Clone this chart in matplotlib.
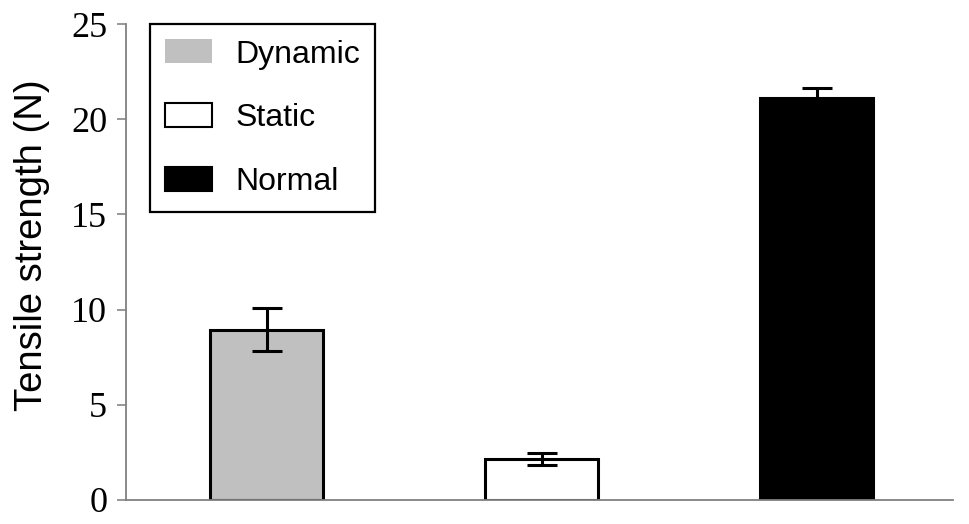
import numpy as np
import matplotlib.pyplot as plt
from matplotlib.patches import Patch

# Data
groups = ['Dynamic', 'Static', 'Normal']
strength = [8.95, 2.15, 21.1]
strength_err = [1.15, 0.3, 0.55]
fill_colors = ['#c0c0c0', '#ffffff', '#000000']

fig = plt.figure(figsize=(9.69, 5.24), dpi=100)
ax = fig.add_axes([0.130, 0.046, 0.8535, 0.908])

x = np.arange(len(groups))
ax.bar(x, strength, width=0.41, color=fill_colors, edgecolor='black',
       linewidth=2.2, zorder=2)
ax.errorbar(x, strength, yerr=strength_err, fmt='none', ecolor='black',
            elinewidth=2.2, capsize=11, capthick=2.2, zorder=3)

ax.set_xlim(-0.512, 2.496)
ax.set_ylim(0, 25)
ax.set_yticks([0, 5, 10, 15, 20, 25])
ax.set_xticks([])

for side in ['top', 'right']:
    ax.spines[side].set_visible(False)
for side in ['left', 'bottom']:
    ax.spines[side].set_color('#808080')
    ax.spines[side].set_linewidth(1.3)

ax.tick_params(axis='y', direction='out', length=6.5, width=1.3,
               color='#909090', pad=7)
for lbl in ax.get_yticklabels():
    lbl.set_fontfamily('Liberation Serif')
    lbl.set_fontsize(26)

ax.set_ylabel('Tensile strength (N)', fontfamily='Liberation Sans',
              fontsize=27.5)
ax.yaxis.set_label_coords(-0.092, 0.536)

handles = [Patch(facecolor=fill_colors[0], edgecolor='none'),
           Patch(facecolor=fill_colors[1], edgecolor='black', linewidth=1.5),
           Patch(facecolor=fill_colors[2], edgecolor='black', linewidth=1.5)]
leg = ax.legend(handles, groups, loc='upper left',
                bbox_to_anchor=(24 / 827, 1.0), borderaxespad=0,
                prop={'family': 'Liberation Sans', 'size': 23},
                handlelength=1.47, handleheight=0.78, handletextpad=0.72,
                labelspacing=1.05, borderpad=0.48, fancybox=False,
                framealpha=1, edgecolor='black')
leg.get_frame().set_linewidth(1.6)

fig.savefig('out.png', dpi=100)
